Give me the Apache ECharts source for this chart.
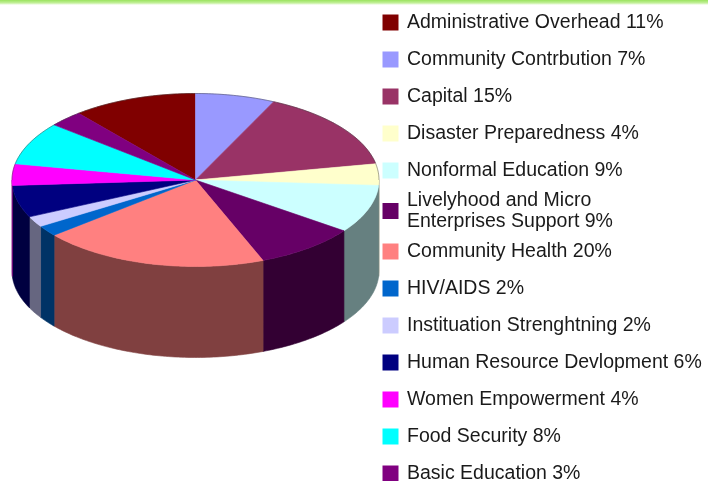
<!DOCTYPE html>
<html>
<head>
<meta charset="utf-8">
<script src="https://cdn.jsdelivr.net/npm/echarts@6/dist/echarts.min.js"></script>
<style>
  html, body { margin: 0; padding: 0; background: #fff; }
  #chart { width: 708px; height: 481px; }
</style>
</head>
<body>
<div id="chart"></div>
<script>
// budget split, in legend order (clockwise, last slice ends at 12 o'clock)
var names = [
  'Administrative Overhead',
  'Community Contrbution',
  'Capital',
  'Disaster Preparedness',
  'Nonformal Education',
  'Livelyhood and Micro\nEnterprises Support',
  'Community Health',
  'HIV/AIDS',
  'Instituation Strenghtning',
  'Human Resource Devlopment',
  'Women Empowerment',
  'Food Security',
  'Basic Education'
]
var values = [11, 7, 15, 4, 9, 9, 20, 2, 2, 6, 4, 8, 3]
var colors = [
  '#800000', '#9999ff', '#993366', '#ffffcc', '#ccffff', '#660066', '#ff8080',
  '#0066cc', '#ccccff', '#000080', '#ff00ff', '#00ffff', '#800080'
]

// ellipse layout (px)
var CX = 195.5, CY = 180, RX = 183.5, RY = 86.5, DEPTH = 91
var START = 129.6

var total = values.reduce(function (a, b) { return a + b }, 0)

function shade(hex, k) {
  var n = parseInt(hex.slice(1), 16)
  var r = Math.round(((n >> 16) & 255) * k)
  var g = Math.round(((n >> 8) & 255) * k)
  var b = Math.round((n & 255) * k)
  return 'rgb(' + r + ',' + g + ',' + b + ')'
}

function arc(a, b, dy) {
  var pts = []
  var step = a > b ? -1 : 1
  var t = a
  while ((step < 0 && t > b) || (step > 0 && t < b)) {
    var r = t * Math.PI / 180
    pts.push([CX + RX * Math.cos(r), CY - RY * Math.sin(r) + dy])
    t += step
  }
  var rb = b * Math.PI / 180
  pts.push([CX + RX * Math.cos(rb), CY - RY * Math.sin(rb) + dy])
  return pts
}

function renderSlice(params, api) {
  var from = START - api.value(0) / total * 360
  var to = from - api.value(1) / total * 360
  var color = api.visual('color')
  var side = shade(colors[params.seriesIndex], 0.5)
  var children = []
  var k, hi, lo
  // front wall (lower half of the rim)
  for (k = -2; k <= 2; k++) {
    hi = Math.min(from, 360 * k)
    lo = Math.max(to, -180 + 360 * k)
    if (hi > lo) {
      children.push({
        type: 'polygon',
        shape: { points: arc(hi, lo, 0).concat(arc(lo, hi, DEPTH)) },
        style: { fill: side, stroke: side, lineWidth: 0.6 }
      })
    }
  }
  children.push({
    type: 'polygon',
    shape: { points: [[CX, CY]].concat(arc(from, to, 0)) },
    style: { fill: color, stroke: color, lineWidth: 0.6 }
  })
  // faint outline on the back rim
  for (k = -2; k <= 2; k++) {
    hi = Math.min(from, 180 + 360 * k)
    lo = Math.max(to, 360 * k)
    if (hi > lo) {
      children.push({
        type: 'polyline',
        shape: { points: arc(hi, lo, 0) },
        style: { stroke: 'rgba(50,50,50,0.55)', lineWidth: 0.8, fill: null }
      })
    }
  }
  return { type: 'group', children: children }
}

var cum = 0
var series = names.map(function (name, i) {
  var s = {
    name: name,
    type: 'custom',
    coordinateSystem: 'none',
    silent: true,
    itemStyle: { color: colors[i] },
    data: [[cum, values[i]]],
    renderItem: renderSlice
  }
  cum += values[i]
  return s
})

var chart = echarts.init(document.getElementById('chart'))
chart.setOption({
  animation: false,
  graphic: [{
    type: 'rect',
    shape: { x: 0, y: 0, width: 708, height: 5 },
    style: {
      fill: new echarts.graphic.LinearGradient(0, 0, 0, 1, [
        { offset: 0, color: '#9ae35e' },
        { offset: 0.6, color: '#c4f09c' },
        { offset: 1, color: '#ffffff' }
      ])
    },
    silent: true
  }],
  legend: {
    orient: 'vertical',
    left: 382.5,
    top: 5,
    height: 560,
    padding: 0,
    itemGap: 2,
    itemWidth: 23,
    itemHeight: 16,
    icon: 'path://M0,0h10v10h-10z',
    selectedMode: false,
    textStyle: {
      fontFamily: 'Liberation Sans, Arial, sans-serif',
      fontSize: 19.5,
      color: '#1a1a1a',
      lineHeight: 35
    },
    data: names.map(function (n) {
      return n.indexOf('\n') >= 0 ? { name: n, textStyle: { lineHeight: 21 } } : { name: n }
    }),
    formatter: function (name) {
      return name + ' ' + values[names.indexOf(name)] + '%'
    }
  },
  series: series
})
</script>
</body>
</html>
